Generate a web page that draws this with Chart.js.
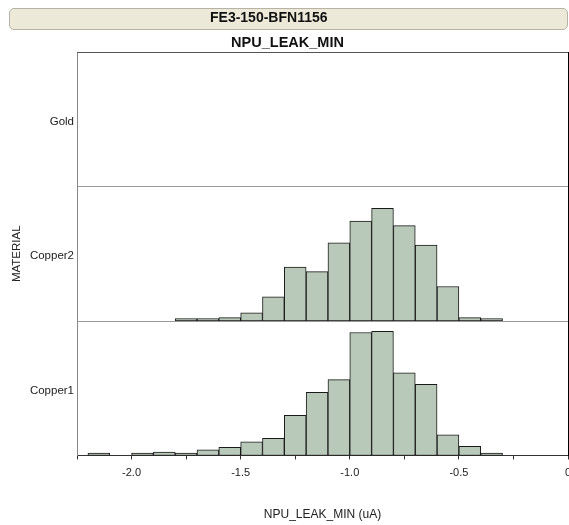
<!DOCTYPE html>
<html>
<head>
<meta charset="utf-8">
<script src="https://cdn.jsdelivr.net/npm/chart.js@4.4.0/dist/chart.umd.min.js"></script>
<style>
  body { margin: 0; background: #fff; }
  #wrap { position: relative; width: 569px; height: 525px; }
  #header {
    position: absolute; left: 9px; top: 8px; width: 559px; height: 22px;
    box-sizing: border-box; padding-left: 200px;
    background: #ECE9D8; border: 1px solid #B5B2A6; border-radius: 5px;
    font: bold 14px 'Liberation Sans', Arial, sans-serif; line-height: 17px; color: #111;
  }
  canvas { position: absolute; left: 0; top: 0; }
</style>
</head>
<body>
<div id="wrap">
  <canvas id="chart" width="569" height="525"></canvas>
  <div id="header">FE3-150-BFN1156</div>
</div>
<script>
// histogram bins, 0.1 uA wide (centres)
const binCenters = [-2.15, -2.05, -1.95, -1.85, -1.75, -1.65, -1.55, -1.45, -1.35, -1.25,
                    -1.15, -1.05, -0.95, -0.85, -0.75, -0.65, -0.55, -0.45, -0.35];
const copper1Counts = [2, null, 2, 3, 2, 5, 7, 12, 15, 35, 55, 66, 107, 108, 72, 62, 18, 8, 2];
const copper2Counts = [null, null, null, null, 2, 2, 3, 7, 21, 47, 43, 68, 87, 98, 83, 66, 30, 3, 2];
const goldCounts = [null, null, null, null, null, null, null, null, null, null,
                    null, null, null, null, null, null, null, null, null];
const xTickValues = [-2.25, -2.0, -1.75, -1.5, -1.25, -1.0, -0.75, -0.5, -0.25, 0];
const xTickLabels = ['', '-2.0', '', '-1.5', '', '-1.0', '', '-0.5', '', '0'];
const countMax = 117;

const FAMILY = "'Liberation Sans', Arial, sans-serif";
const font = (size, weight) => ({ family: FAMILY, size: size, weight: weight || 'normal' });

function barSet(name, counts, axisId) {
    return {
        label: name,
        yAxisID: axisId,
        data: binCenters.map((x, i) => ({ x: x, y: counts[i] })),
        backgroundColor: 'rgb(185,201,185)',
        borderColor: '#1a1a1a',
        borderWidth: 1,
        borderSkipped: false,
        grouped: false,
        barPercentage: 1,
        categoryPercentage: 1
    };
}

// one stacked y axis per material, label sits in the middle of the panel
function panelScale(name, withTitle) {
    return {
        type: 'linear',
        position: 'left',
        stack: 'material',
        stackWeight: 1,
        min: 0,
        max: countMax,
        afterBuildTicks: s => { s.ticks = [{ value: countMax / 2 - 2 }, { value: countMax }]; },
        afterFit: s => { s.width = 70; s.paddingTop = 0; s.paddingBottom = 0; },
        ticks: {
            autoSkip: false,
            padding: 3,
            color: '#222',
            font: font(11.5),
            callback: v => (v === countMax ? '' : name)
        },
        grid: {
            drawTicks: false,
            color: c => (c.tick && c.tick.value === countMax ? '#999' : 'rgba(0,0,0,0)')
        },
        border: { color: '#888' },
        title: {
            display: withTitle,
            text: 'MATERIAL',
            color: '#222',
            font: font(11.5),
            padding: { top: 3, bottom: 0 }
        }
    };
}

new Chart(document.getElementById('chart'), {
    type: 'bar',
    data: {
        datasets: [
            barSet('Copper1', copper1Counts, 'y1'),
            barSet('Copper2', copper2Counts, 'y2'),
            barSet('Gold', goldCounts, 'y3')
        ]
    },
    options: {
        responsive: false,
        animation: false,
        devicePixelRatio: 1,
        layout: { padding: { top: 30, left: 7, right: 1, bottom: 0 } },
        plugins: {
            legend: { display: false },
            tooltip: { enabled: false },
            title: {
                display: true,
                text: 'NPU_LEAK_MIN',
                color: '#111',
                font: font(14.5, 'bold'),
                padding: { top: 4, bottom: 0.6 }
            }
        },
        scales: {
            x: {
                type: 'linear',
                min: -2.25,
                max: 0,
                offset: false,
                afterBuildTicks: s => { s.ticks = xTickValues.map(v => ({ value: v })); },
                afterFit: s => { s.height = 69.5; s.paddingLeft = 0; s.paddingRight = 0; },
                ticks: {
                    autoSkip: false,
                    maxRotation: 0,
                    padding: 7,
                    color: '#222',
                    font: font(11),
                    callback: (v, i) => xTickLabels[i]
                },
                grid: { offset: false, drawOnChartArea: false, drawTicks: true, tickLength: 4, color: '#333' },
                border: { color: '#333' },
                title: {
                    display: true,
                    text: 'NPU_LEAK_MIN (uA)',
                    color: '#222',
                    font: font(12),
                    padding: { top: 0, bottom: 3 }
                }
            },
            y1: panelScale('Copper1', false),
            y2: panelScale('Copper2', true),
            y3: panelScale('Gold', false),
            xt: {
                type: 'linear',
                position: 'top',
                ticks: { display: false },
                grid: { display: false },
                border: { color: '#555' },
                afterFit: s => { s.height = 0; s.paddingLeft = 0; s.paddingRight = 0; }
            },
            yr: {
                type: 'linear',
                position: 'right',
                ticks: { display: false },
                grid: { display: false },
                border: { color: '#000' },
                afterFit: s => { s.width = 0; s.paddingTop = 0; s.paddingBottom = 0; }
            }
        }
    }
});
</script>
</body>
</html>
